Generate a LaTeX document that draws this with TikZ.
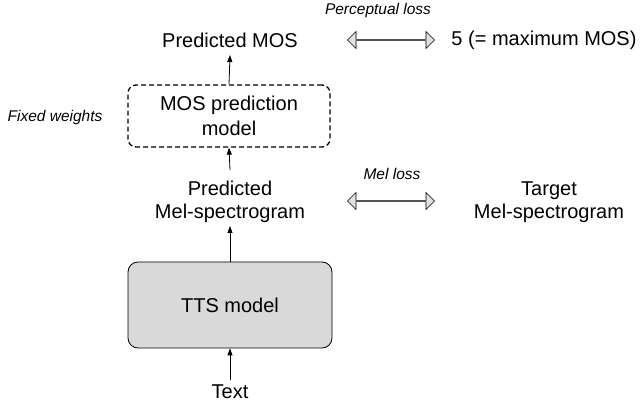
\documentclass[tikz,border=0pt]{standalone}
\usepackage{fontspec}
\setmainfont{Liberation Sans}
\usetikzlibrary{shapes.arrows,arrows.meta}
\begin{document}
\begin{tikzpicture}[x=1pt,y=-1pt,
  txt/.style={font=\fontsize{20}{22}\selectfont,inner sep=0pt,align=center},
  lbl/.style={font=\fontsize{15.5}{17}\selectfont\itshape,inner sep=0pt},
  arr/.style={-{Triangle[length=7pt,width=5pt]},line width=0.8pt},
  dbl/.style={double arrow,draw,fill=black!12,line width=0.6pt,minimum height=87pt,minimum width=17pt,double arrow head extend=4pt,inner sep=0pt}]
\useasboundingbox (0,0) rectangle (640,403);
\node[lbl] (pl) at (378,10) {Perceptual loss};
\node[txt] (pm) at (230,40) {Predicted MOS};
\node[dbl] (d1) at (391,40) {};
\node[txt] (mx) at (544,40) {5 (= maximum MOS)};
\node[draw,dash pattern=on 5pt off 3pt,rounded corners=8pt,line width=1.3pt,minimum width=202pt,minimum height=62pt,txt] (mp) at (229,116) {MOS prediction\\[3pt]model};
\node[lbl] (fw) at (55,117) {Fixed weights};
\node[txt] (pms) at (230,202) {Predicted\\[1pt]Mel-spectrogram};
\node[lbl] (ml) at (392,174) {Mel loss};
\node[dbl] (d2) at (391,201) {};
\node[txt] (tms) at (549,202) {Target\\[1pt]Mel-spectrogram};
\node[draw,fill=black!15,rounded corners=10pt,line width=0.8pt,minimum width=204pt,minimum height=86pt,txt] (tts) at (230,305) {TTS model};
\node[txt] (tx) at (230,392) {Text};
\draw[arr] (mp.north) -- (230,55);
\draw[arr] (230,170) -- (mp.south);
\draw[arr] (tts.north) -- (230,226);
\draw[arr] (230,380) -- (tts.south);
\end{tikzpicture}
\end{document}
